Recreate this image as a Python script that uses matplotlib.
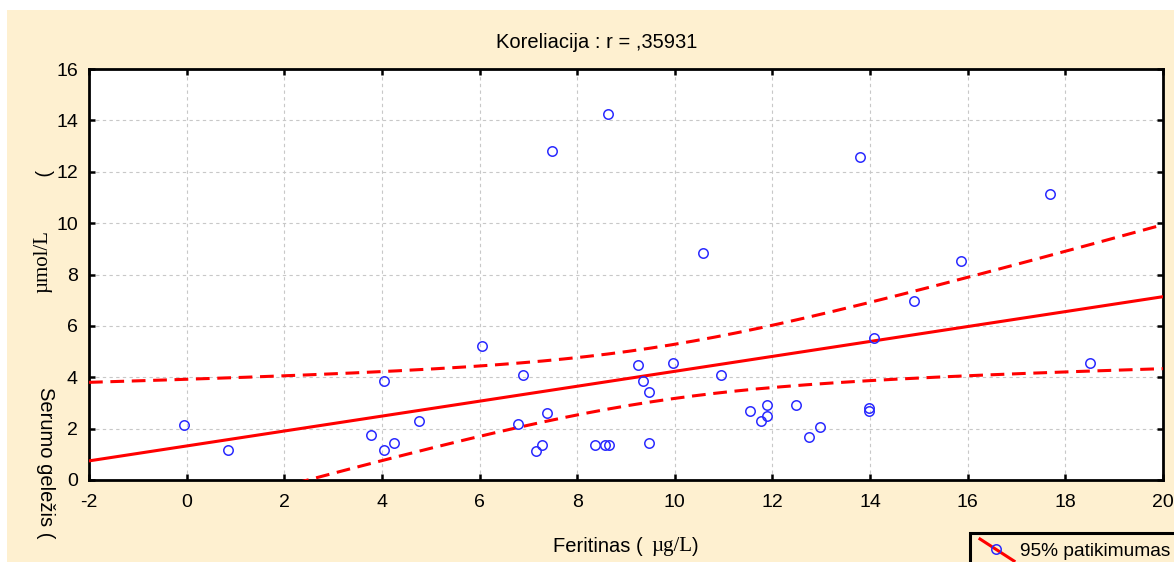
import numpy as np
import matplotlib
matplotlib.use("Agg")
import matplotlib.pyplot as plt
from matplotlib.patches import Rectangle
from matplotlib.lines import Line2D

# Ferritin (µg/L) vs serum iron (µmol/L)
feritinas = [-0.05, 0.85, 3.77, 4.04, 4.04, 4.25, 4.75, 6.06, 6.78, 6.89,
             7.16, 7.28, 7.38, 7.49, 8.37, 8.57, 8.65, 8.64, 9.25, 9.35,
             9.47, 9.47, 9.96, 10.57, 10.94, 11.55, 11.76, 11.88, 11.88, 12.48,
             12.75, 12.97, 13.80, 13.97, 13.97, 14.07, 14.89, 15.87, 17.69, 18.51]
gelezis = [2.15, 1.16, 1.77, 3.85, 1.16, 1.45, 2.30, 5.21, 2.18, 4.07,
           1.14, 1.35, 2.60, 12.79, 1.35, 1.35, 1.35, 14.24, 4.48, 3.85,
           3.43, 1.45, 4.57, 8.84, 4.07, 2.70, 2.29, 2.50, 2.91, 2.91,
           1.66, 2.08, 12.58, 2.70, 2.81, 5.51, 6.97, 8.53, 11.12, 4.57]

x_ticks = [-2, 0, 2, 4, 6, 8, 10, 12, 14, 16, 18, 20]
y_ticks = [0, 2, 4, 6, 8, 10, 12, 14, 16]
title = "Koreliacija : r = ,35931"
legend_label = "95% patikimumas"

W, H = 1174, 562
SANS = "Liberation Sans"
SERIF = "Liberation Serif"
CREAM = "#fef0d0"
FS = 14.5

plt.rcParams["axes.unicode_minus"] = False


def fx(px):
    return px / W


def fy(py):
    return 1 - py / H


fig = plt.figure(figsize=(W / 100, H / 100), dpi=100, facecolor="white")
fig.patches.append(Rectangle((fx(7), 0), 1 - fx(7), fy(10), transform=fig.transFigure,
                             facecolor=CREAM, edgecolor="none", zorder=-10))

ax = fig.add_axes([fx(89), fy(480), fx(1163) - fx(89), fy(69) - fy(480)])
ax.set_facecolor("white")

x = np.array(feritinas)
y = np.array(gelezis)
n = len(x)
slope, intercept = np.polyfit(x, y, 1)
xs = np.linspace(-2, 20, 200)
fit = intercept + slope * xs
resid = y - (intercept + slope * x)
s = np.sqrt(np.sum(resid ** 2) / (n - 2))
sxx = np.sum((x - x.mean()) ** 2)
t_val = 2.024  # t(0.975, 38)
half = t_val * s * np.sqrt(1 / n + (xs - x.mean()) ** 2 / sxx)

ax.plot(xs, fit, color="red", lw=2.2, zorder=3)
ax.plot(xs, fit + half, color="red", lw=2.2, dashes=(4.5, 2.5), zorder=3)
ax.plot(xs, fit - half, color="red", lw=2.2, dashes=(4.5, 2.5), zorder=3)
ax.plot(x, y, linestyle="none", marker="o", ms=6.8, mfc="none", mec="#2a2aff", mew=1.1, zorder=4)

ax.set_xlim(-2, 20)
ax.set_ylim(0, 16)
ax.set_xticks(x_ticks)
ax.set_yticks(y_ticks)
ax.grid(True, color="#c8c8c8", linestyle=(0, (3, 3)), lw=0.8)
for sp in ax.spines.values():
    sp.set_linewidth(2.0)
    sp.set_color("black")
ax.tick_params(direction="in", length=4, width=1.8, top=True, right=True,
               labelsize=14, colors="black")
ax.tick_params(axis="x", pad=10)
ax.tick_params(axis="y", pad=8)
for lab in ax.get_xticklabels() + ax.get_yticklabels():
    lab.set_fontfamily(SANS)

fig.text(fx(597), fy(42), title, ha="center", va="center", fontsize=FS, family=SANS)

# x axis title: sans text with a serif unit
fig.text(fx(553), fy(547), "Feritinas (", ha="left", va="center", fontsize=FS, family=SANS)
fig.text(fx(651), fy(547), "µg/L", ha="left", va="center", fontsize=15, family=SERIF)
fig.text(fx(692), fy(547), ")", ha="left", va="center", fontsize=FS, family=SANS)

# y axis title pieces
fig.text(fx(45), fy(463), "Serumo geležis (", ha="center", va="center", rotation=-90,
         fontsize=FS, family=SANS)
fig.text(fx(43), fy(262), "µmol/L", ha="center", va="center", rotation=90,
         fontsize=15, family=SERIF)
fig.text(fx(43), fy(173), ")", ha="center", va="center", rotation=-90,
         fontsize=FS, family=SANS)

# legend box at the lower right
fig.patches.append(Rectangle((fx(970), fy(575)), fx(1180) - fx(970), fy(533) - fy(575),
                             transform=fig.transFigure, facecolor=CREAM,
                             edgecolor="black", lw=2.2, zorder=5))
fig.lines.append(Line2D([fx(980), fx(1014)], [fy(539), fy(561)], transform=fig.transFigure,
                        color="red", lw=2.2, zorder=6))
fig.lines.append(Line2D([fx(996)], [fy(549)], transform=fig.transFigure, marker="o", ms=6.8,
                        mfc="none", mec="#2a2aff", mew=1.1, zorder=7))
fig.text(fx(1020), fy(551), legend_label, ha="left", va="center", fontsize=13.8,
         family=SANS, zorder=7)

fig.savefig("out.png", dpi=100, facecolor=fig.get_facecolor())
